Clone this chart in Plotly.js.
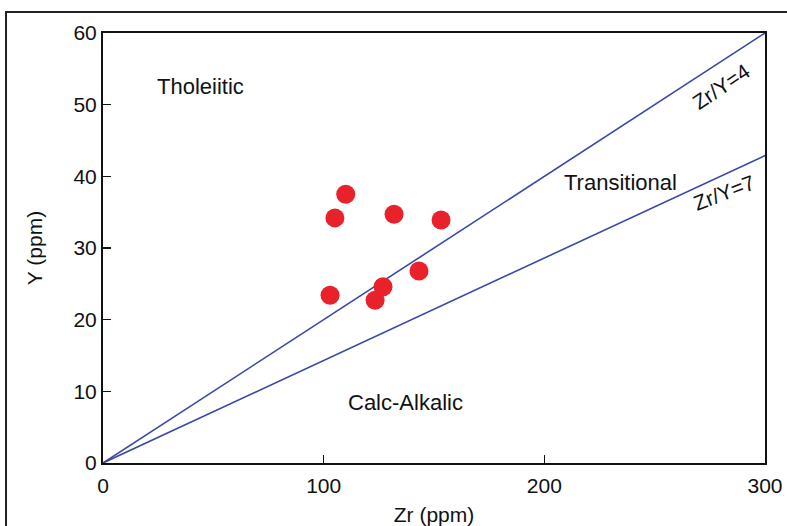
<!DOCTYPE html>
<html>
<head>
<meta charset="utf-8">
<script src="https://cdn.plot.ly/plotly-3.0.1.min.js"></script>
<style>html,body{margin:0;padding:0;background:#fff;}#chart{width:787px;height:526px;}</style>
</head>
<body>
<div id="chart"></div>
<script>
// Sample data (Zr ppm, Y ppm)
const zr = [102.9, 105.1, 110.0, 123.3, 126.9, 131.9, 143.2, 153.2];
const yv = [23.4, 34.2, 37.5, 22.7, 24.6, 34.7, 26.8, 33.9];

// Discriminant lines (endpoints)
const line4X = [0, 300];
const line4Y = [0, 60];
const line7X = [0, 300];
const line7Y = [0, 42.9];

// Field labels
const fieldText = ["Tholeiitic", "Transitional", "Calc-Alkalic"];
const fieldX = [44, 234.7, 137.3];
const fieldY = [52.5, 39.2, 8.5];

const lineLabelText = ["Zr/Y=4", "Zr/Y=7"];
const lineLabelX = [280.1, 281.5];
const lineLabelY = [52.6, 37.8];
const lineLabelAngle = [-34, -21];

const xTicks = [0, 100, 200, 300];
const yTicks = [0, 10, 20, 30, 40, 50, 60];

const blue = '#3a48a8';
const font = 'Liberation Sans, Arial, sans-serif';
const fs = 22;
const tfs = 21;

const traces = [
  {x: line4X, y: line4Y, mode: 'lines', line: {color: blue, width: 1.6}, hoverinfo: 'skip', showlegend: false},
  {x: line7X, y: line7Y, mode: 'lines', line: {color: blue, width: 1.6}, hoverinfo: 'skip', showlegend: false},
  {x: zr, y: yv, mode: 'markers', marker: {color: '#e8212a', size: 19, line: {width: 0}}, showlegend: false, cliponaxis: false}
];

const annotations = [];
for (let i = 0; i < fieldText.length; i++) {
  annotations.push({x: fieldX[i], y: fieldY[i], xref: 'x', yref: 'y', text: fieldText[i], showarrow: false,
    font: {family: font, size: fs, color: '#111'}});
}
for (let i = 0; i < lineLabelText.length; i++) {
  annotations.push({x: lineLabelX[i], y: lineLabelY[i], xref: 'x', yref: 'y', text: lineLabelText[i], showarrow: false,
    textangle: lineLabelAngle[i], font: {family: font, size: 21, color: '#111'}});
}

const layout = {
  width: 787, height: 526,
  margin: {l: 103, r: 22, t: 33, b: 63},
  paper_bgcolor: '#fff', plot_bgcolor: '#fff',
  font: {family: font, size: tfs, color: '#111'},
  xaxis: {
    range: [0, 300], tickvals: xTicks, ticktext: xTicks.map(String),
    ticks: 'inside', ticklen: 8, tickwidth: 1.5, tickcolor: '#111',
    showline: true, linecolor: '#111', linewidth: 2, mirror: true,
    showgrid: false, zeroline: false, ticklabelstandoff: 3,
    tickfont: {family: font, size: tfs, color: '#111'},
    title: {text: 'Zr (ppm)', font: {family: font, size: tfs, color: '#111'}, standoff: 12}
  },
  yaxis: {
    range: [0, 60], tickvals: yTicks, ticktext: yTicks.map(String),
    ticks: 'inside', ticklen: 8, tickwidth: 1.5, tickcolor: '#111',
    showline: true, linecolor: '#111', linewidth: 2, mirror: true,
    showgrid: false, zeroline: false,
    tickfont: {family: font, size: tfs, color: '#111'},
    title: {text: 'Y (ppm)', font: {family: font, size: tfs, color: '#111'}, standoff: 25}
  },
  annotations: annotations,
  shapes: [
    {type: 'rect', xref: 'paper', yref: 'paper', x0: -0.1465, x1: 1.2, y0: -0.3, y1: 1.0488,
      line: {color: '#222', width: 2}, fillcolor: 'rgba(0,0,0,0)', layer: 'below'}
  ]
};

Plotly.newPlot('chart', traces, layout, {displayModeBar: false, staticPlot: true});
</script>
</body>
</html>
